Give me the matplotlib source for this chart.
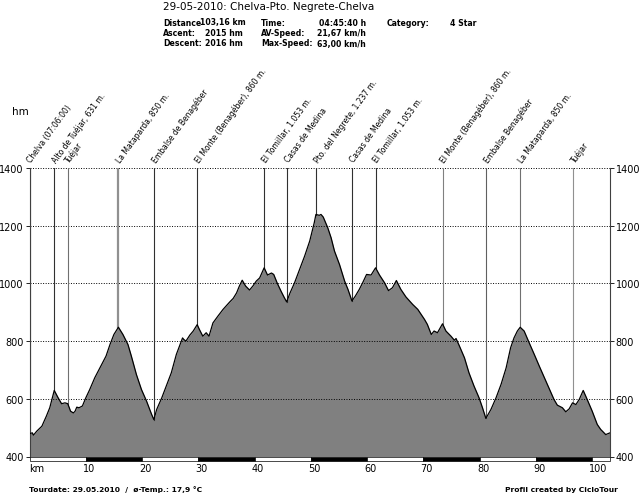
import numpy as np
import matplotlib
matplotlib.use("Agg")
import matplotlib.pyplot as plt
from matplotlib.patches import Rectangle

# profile (distance in km, elevation in m)
km = [0.0, 0.5, 0.7, 1.3, 2.2, 3.0, 3.6, 4.4, 5.1, 5.7,
      6.3, 6.8, 7.3, 7.8, 8.1, 8.4, 8.8, 9.4, 10.0, 10.7,
      11.6, 12.5, 13.6, 14.3, 15.0, 15.8, 16.6, 17.5, 18.1, 19.0,
      19.9, 20.8, 21.7, 22.1, 22.6, 23.5, 24.3, 25.2, 26.1, 27.2,
      27.4, 27.8, 28.5, 29.1, 29.8, 30.2, 30.8, 31.4, 31.9, 32.6,
      33.5, 34.4, 35.6, 36.2, 36.8, 37.3, 37.8, 38.4, 39.1, 39.7,
      40.3, 40.9, 41.7, 42.3, 43.0, 43.4, 44.0, 44.7, 45.3, 45.7,
      46.3, 47.1, 48.0, 48.9, 49.8, 50.6, 50.9, 51.5, 51.8, 52.2,
      53.0, 53.6, 54.2, 55.1, 56.0, 56.6, 57.3, 57.9, 58.6, 59.2,
      59.9, 60.7, 61.5, 62.2, 63.1, 63.8, 64.5, 65.2, 66.0, 66.9,
      68.1, 69.0, 70.2, 70.7, 71.4, 71.9, 72.5, 73.4, 74.0, 74.9,
      75.5, 75.8, 76.4, 77.3, 78.1, 79.0, 79.9, 80.5, 81.1, 82.0,
      82.9, 83.8, 84.7, 85.5, 86.1, 86.7, 87.2, 87.9, 88.8, 89.7,
      90.6, 91.5, 92.3, 93.2, 93.8, 94.7, 95.3, 95.9, 96.5, 97.1,
      97.7, 98.4, 99.1, 100.0, 100.9, 101.5, 102.4, 103.16]
elev = [479, 482, 474, 488, 505, 540, 569, 629, 603, 583,
        586, 583, 557, 551, 557, 571, 569, 575, 603, 632,
        673, 707, 748, 788, 823, 848, 823, 788, 748, 684,
        632, 592, 546, 528, 563, 603, 644, 690, 754, 811,
        806, 800, 821, 835, 857, 840, 817, 829, 817, 863,
        887, 910, 936, 948, 967, 991, 1011, 991, 977, 991,
        1008, 1019, 1054, 1029, 1036, 1031, 1002, 973, 950, 936,
        967, 1002, 1048, 1095, 1147, 1210, 1239, 1236, 1239, 1230,
        1193, 1158, 1112, 1065, 1008, 979, 939, 956, 979, 1002,
        1031, 1029, 1054, 1029, 1002, 975, 985, 1010, 979, 953,
        927, 910, 875, 858, 823, 835, 829, 860, 835, 817,
        803, 809, 783, 742, 690, 644, 603, 569, 532, 563,
        603, 650, 707, 777, 811, 835, 848, 835, 794, 754,
        713, 673, 638, 598, 578, 569, 555, 565, 586, 580,
        598, 629, 598, 557, 511, 494, 476, 482]

# waypoints along the route
marker_names = ["Chelva (07:06:00)", "Alto de Tuéjar, 631 m.", "Tuéjar",
                "La Mataparda, 850 m.", "Embalse de Benagéber",
                "El Monte (Benagéber), 860 m.", "El Tomillar, 1.053 m.",
                "Casas de Medina", "Pto. del Negrete, 1.237 m.",
                "Casas de Medina", "El Tomillar, 1.053 m.",
                "El Monte (Benagéber), 860 m.", "Embalse Benagéber",
                "La Mataparda, 850 m.", "Tuéjar"]
marker_km = [0.0, 4.4, 6.8, 15.8, 22.1, 29.8, 41.7, 45.7, 51.0,
             57.3, 61.5, 73.4, 81.1, 87.2, 96.6]
marker_colors = ["#303030", "#303030", "#707070", "#909090", "#303030",
                 "#303030", "#303030", "#303030", "#303030", "#303030",
                 "#303030", "#808080", "#606060", "#707070", "#909090"]

y_ticks = [400, 600, 800, 1000, 1200, 1400]
km_ticks = [10, 20, 30, 40, 50, 60, 70, 80, 90, 100]
total_km = 103.16

W, H = 640, 502
fig = plt.figure(figsize=(W / 100, H / 100), dpi=100)
plt.rcParams['font.family'] = 'DejaVu Sans'


def fx(px):
    return px / W


def fy(py):
    return 1 - py / H


# header
fig.text(fx(163), fy(7.5), "29-05-2010: Chelva-Pto. Negrete-Chelva",
         fontsize=7.5, va='center', ha='left')
hdr = dict(fontsize=5.6, fontweight='bold', va='center')
fig.text(fx(163), fy(23), "Distance", ha='left', **hdr)
fig.text(fx(200), fy(23), "103,16 km", ha='left', **hdr)
fig.text(fx(261), fy(23), "Time:", ha='left', **hdr)
fig.text(fx(366), fy(23), "04:45:40 h", ha='right', **hdr)
fig.text(fx(387), fy(23), "Category:", ha='left', **hdr)
fig.text(fx(477), fy(23), "4 Star", ha='right', **hdr)
fig.text(fx(163), fy(34), "Ascent:", ha='left', **hdr)
fig.text(fx(243), fy(34), "2015 hm", ha='right', **hdr)
fig.text(fx(261), fy(34), "AV-Speed:", ha='left', **hdr)
fig.text(fx(366), fy(34), "21,67 km/h", ha='right', **hdr)
fig.text(fx(163), fy(44), "Descent:", ha='left', **hdr)
fig.text(fx(243), fy(44), "2016 hm", ha='right', **hdr)
fig.text(fx(261), fy(44), "Max-Speed:", ha='left', **hdr)
fig.text(fx(366), fy(44), "63,00 km/h", ha='right', **hdr)

# footer
fig.text(fx(29), fy(490), "Tourdate: 29.05.2010  /  ø-Temp.: 17,9 °C",
         fontsize=5.4, fontweight='bold', ha='left', va='center')
fig.text(fx(618), fy(490), "Profil created by CicloTour",
         fontsize=5.4, fontweight='bold', ha='right', va='center')
fig.text(fx(12), fy(112), "hm", fontsize=7.5, ha='left', va='center')
fig.text(fx(29), fy(469), "km", fontsize=7, ha='left', va='center')

ax = fig.add_axes([fx(29.5), fy(457.5), fx(610) - fx(29.5), fy(169) - fy(457.5)])
ax.set_xlim(0, total_km)
ax.set_ylim(400, 1400)

ax.fill_between(km, elev, 400, color='#808080', lw=0, zorder=1)
ax.plot(km, elev, color='black', lw=0.9, zorder=3)

for y in y_ticks[1:]:
    ax.axhline(y, color='black', lw=0.7, ls=(0, (1, 1.6)), zorder=2)

# waypoint lines and labels
tops = np.interp(marker_km, km, elev)
for name, k, top, c in zip(marker_names, marker_km, tops, marker_colors):
    lw = 1.6 if c == "#909090" and k < 20 else 0.8
    ax.plot([k, k], [top, 1400], color=c, lw=lw, zorder=2.5)
    ax.annotate(name, xy=(k, 1400), xytext=(1.5, 4), textcoords='offset points',
                rotation=54, rotation_mode='anchor', ha='left', va='baseline',
                fontsize=5.5, annotation_clip=False)

# distance bar below the axis
starts = list(range(0, 110, 10))
for i, s in enumerate(starts):
    w = min(10, total_km - s)
    ax.add_patch(Rectangle((s, 386), w, 14, facecolor='black' if i % 2 else 'white',
                           edgecolor='black', lw=0.5, clip_on=False, zorder=4))

for k in km_ticks:
    ax.annotate(str(k), xy=(k, 0), xycoords=('data', 'axes fraction'),
                xytext=(-2, -8), textcoords='offset points',
                ha='left', va='center', fontsize=7, annotation_clip=False)

ax.set_xticks([])
ax.set_yticks(y_ticks)
ax.tick_params(axis='y', left=True, right=True, labelleft=True, labelright=True,
               length=3, width=0.6, labelsize=7, pad=1)
for side in ['top', 'bottom']:
    ax.spines[side].set_visible(False)
for side in ['left', 'right']:
    ax.spines[side].set_color('#404040')
    ax.spines[side].set_linewidth(0.8)
ax.set_facecolor('white')

fig.savefig('out.png', dpi=100)
